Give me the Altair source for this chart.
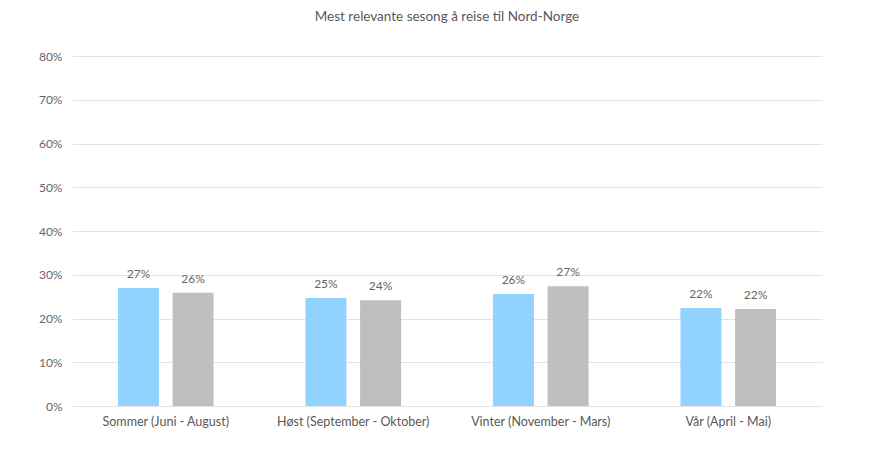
import altair as alt
import pandas as pd

categories = ["Sommer (Juni - August)", "Høst (September - Oktober)", "Vinter (November - Mars)", "Vår (April - Mai)"]
series = ["Serie 1", "Serie 2"]
values_s1 = [0.27, 0.247, 0.256, 0.224]
values_s2 = [0.259, 0.242, 0.274, 0.222]
colors = ["#91d2fe", "#bfbfbf"]

rows = []
for c, a, b in zip(categories, values_s1, values_s2):
    rows.append({"kategori": c, "serie": series[0], "verdi": a})
    rows.append({"kategori": c, "serie": series[1], "verdi": b})
df = pd.DataFrame(rows)

FONT = "Lato"

base = alt.Chart(df).encode(
    x=alt.X("kategori:N", sort=categories, title=None,
            scale=alt.Scale(paddingInner=0.49, paddingOuter=0.245),
            axis=alt.Axis(labelAngle=0, domain=False, ticks=False, labelPadding=9,
                          labelFontSize=12.5, labelColor="#595959", labelFont=FONT)),
    xOffset=alt.XOffset("serie:N", sort=series,
                        scale=alt.Scale(paddingInner=0.25, paddingOuter=0)),
)

bars = base.mark_bar().encode(
    y=alt.Y("verdi:Q", title=None,
            scale=alt.Scale(domain=[0, 0.8], nice=False),
            axis=alt.Axis(format=".0%", values=[i / 10 for i in range(9)], domain=False, ticks=False,
                          labelPadding=10, labelFontSize=12, labelColor="#666666", labelFont=FONT,
                          gridColor="#e3e3e3")),
    color=alt.Color("serie:N", sort=series, scale=alt.Scale(domain=series, range=colors), legend=None),
)

labels = base.mark_text(dy=-7, fontSize=12, color="#666666", font=FONT, baseline="bottom").encode(
    y=alt.Y("verdi:Q"),
    text=alt.Text("verdi:Q", format=".0%"),
)

chart = (bars + labels).properties(
    width=750, height=350,
    autosize=alt.AutoSizeParams(type="none"),
    padding={"left": 64, "top": 48, "right": 50, "bottom": 40},
    title=alt.TitleParams("Mest relevante sesong å reise til Nord-Norge", fontSize=13.5,
                          fontWeight="normal", color="#595959", font=FONT, offset=27, anchor="middle"),
).configure_view(stroke=None)

chart.save("out.html", embed_options={"renderer": "svg", "actions": False})
